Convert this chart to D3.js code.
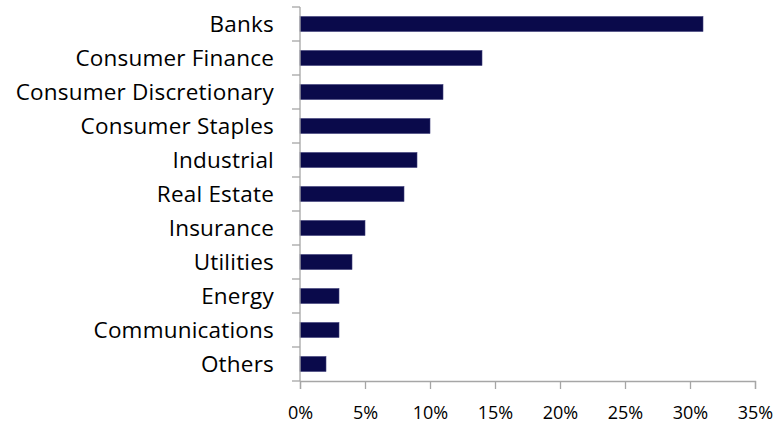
<!DOCTYPE html>
<html>
<head>
<meta charset="utf-8">
<script src="https://cdn.jsdelivr.net/npm/d3@7"></script>
<style>
  html, body { margin: 0; padding: 0; background: #ffffff; }
  svg text { font-family: "Open Sans", Lato, sans-serif; fill: #000; }
</style>
</head>
<body>
<svg id="chart" width="784" height="429"></svg>
<script>
// Sector allocation, share of portfolio (%)
const categories = ["Banks", "Consumer Finance", "Consumer Discretionary", "Consumer Staples",
  "Industrial", "Real Estate", "Insurance", "Utilities", "Energy", "Communications", "Others"];
const weights = [31, 14, 11, 10, 9, 8, 5, 4, 3, 3, 2];
const xTicks = [0, 5, 10, 15, 20, 25, 30, 35];

const margin = { top: 7, right: 29, bottom: 48, left: 300 };
const width = 784, height = 429;
const svg = d3.select("#chart");

const x = d3.scaleLinear().domain([0, 35]).range([margin.left, width - margin.right]);
const y = d3.scaleBand().domain(categories).range([margin.top, height - margin.bottom])
  .paddingInner(0.56).paddingOuter(0.28);
const yOuter = d3.scaleBand().domain(categories).range([margin.top, height - margin.bottom]);

const axisColor = "#a6a6a6";

// bars
svg.append("g").selectAll("rect")
  .data(categories)
  .join("rect")
  .attr("x", x(0))
  .attr("y", d => y(d))
  .attr("width", (d, i) => x(weights[i]) - x(0))
  .attr("height", y.bandwidth())
  .attr("fill", "#0a0a4b")
  .attr("stroke", "#3c3c78")
  .attr("stroke-width", 0.6);

// category axis: vertical line with tick marks between bands
const yAxis = svg.append("g");
yAxis.append("line")
  .attr("x1", x(0)).attr("x2", x(0))
  .attr("y1", margin.top).attr("y2", height - margin.bottom)
  .attr("stroke", axisColor).attr("stroke-width", 1.3);
const bounds = categories.map(d => yOuter(d)).concat([height - margin.bottom]);
yAxis.selectAll("line.tick")
  .data(bounds)
  .join("line")
  .attr("class", "tick")
  .attr("x1", x(0) - 8).attr("x2", x(0))
  .attr("y1", d => d).attr("y2", d => d)
  .attr("stroke", axisColor).attr("stroke-width", 1.3);
yAxis.selectAll("text")
  .data(categories)
  .join("text")
  .attr("x", x(0) - 26)
  .attr("y", d => yOuter(d) + yOuter.bandwidth() / 2 + 7.7)
  .attr("text-anchor", "end")
  .attr("font-size", 22.5)
  .attr("letter-spacing", 0.2)
  .text(d => d);

// value axis
const xAxis = d3.axisBottom(x)
  .tickValues(xTicks)
  .tickSize(8)
  .tickPadding(17)
  .tickFormat(d => d + "%");
const gx = svg.append("g")
  .attr("transform", `translate(0,${height - margin.bottom})`)
  .call(xAxis);
gx.select(".domain").attr("stroke", axisColor).attr("stroke-width", 1.3);
gx.selectAll(".tick line").attr("stroke", axisColor).attr("stroke-width", 1.3);
gx.selectAll(".tick text").attr("font-size", 18).attr("font-family", "\"Open Sans\", sans-serif").attr("fill", "#000");
</script>
</body>
</html>
